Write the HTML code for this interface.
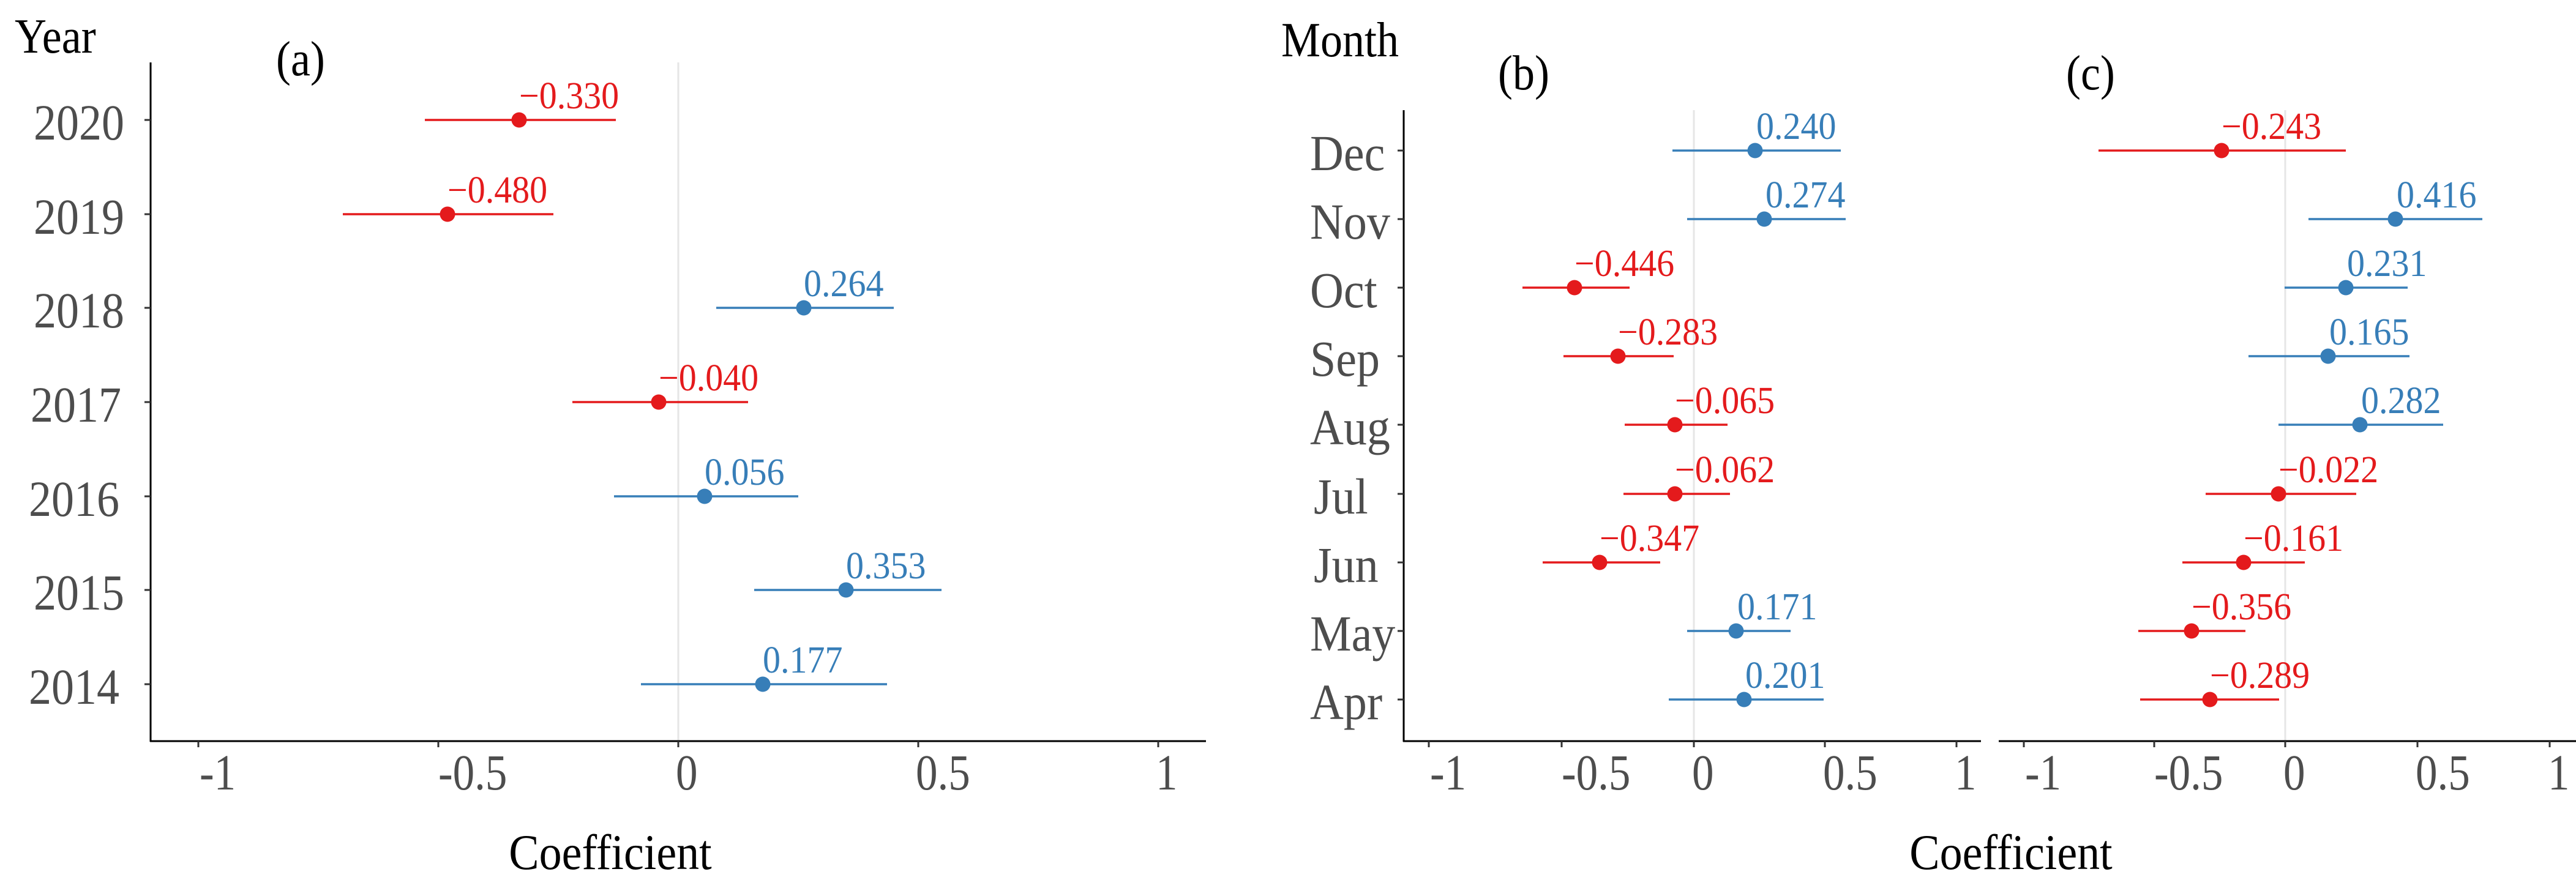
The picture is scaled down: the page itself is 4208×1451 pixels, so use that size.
<!DOCTYPE html>
<html><head><style>html,body{margin:0;padding:0;background:#fff}svg{display:block}</style></head><body>
<svg width="4208" height="1451" viewBox="0 0 4208 1451" xmlns="http://www.w3.org/2000/svg" font-family="Liberation Serif, serif">
<rect width="4208" height="1451" fill="#fff"/>
<!-- Panel a -->
<line x1="1108" y1="102" x2="1108" y2="1211" stroke="#e6e6e6" stroke-width="3"/>
<line x1="246" y1="102" x2="246" y2="1212" stroke="#000" stroke-width="3"/>
<line x1="245" y1="1211" x2="1970" y2="1211" stroke="#000" stroke-width="3"/>
<g stroke="#333" stroke-width="3">
<line x1="236" y1="196" x2="246" y2="196"/><line x1="236" y1="350" x2="246" y2="350"/><line x1="236" y1="503" x2="246" y2="503"/><line x1="236" y1="657" x2="246" y2="657"/><line x1="236" y1="811" x2="246" y2="811"/><line x1="236" y1="964" x2="246" y2="964"/><line x1="236" y1="1118" x2="246" y2="1118"/>
<line x1="324" y1="1211" x2="324" y2="1221"/><line x1="716" y1="1211" x2="716" y2="1221"/><line x1="1108" y1="1211" x2="1108" y2="1221"/><line x1="1500" y1="1211" x2="1500" y2="1221"/><line x1="1892" y1="1211" x2="1892" y2="1221"/>
</g>
<g font-size="74" fill="#4d4d4d" text-anchor="end">
<text transform="translate(203 228) scale(1 1.12)">2020</text>
<text transform="translate(203 382) scale(1 1.12)">2019</text>
<text transform="translate(203 535) scale(1 1.12)">2018</text>
<text transform="translate(198 689) scale(1 1.12)">2017</text>
<text transform="translate(195 843) scale(1 1.12)">2016</text>
<text transform="translate(203 996) scale(1 1.12)">2015</text>
<text transform="translate(195 1150) scale(1 1.12)">2014</text>
</g>
<g font-size="74" fill="#4d4d4d">
<text transform="translate(326 1290) scale(0.96 1.12)">-1</text>
<text transform="translate(716 1290) scale(0.96 1.12)">-0.5</text>
<text transform="translate(1104 1290) scale(0.96 1.12)">0</text>
<text transform="translate(1496 1290) scale(0.96 1.12)">0.5</text>
<text transform="translate(1888 1290) scale(0.96 1.12)">1</text>
</g>
<text transform="translate(24 86) scale(1 1.12)" font-size="72" fill="#000">Year</text>
<text transform="translate(451 123) scale(1 1.12)" font-size="72" fill="#000">(a)</text>
<text transform="translate(997 1420) scale(1 1.1)" font-size="74" fill="#000" text-anchor="middle">Coefficient</text>
<g stroke-width="3.5">
<line x1="694" y1="196" x2="1006" y2="196" stroke="#E41A1C"/>
<line x1="560" y1="350" x2="904" y2="350" stroke="#E41A1C"/>
<line x1="1170" y1="503" x2="1460" y2="503" stroke="#377EB8"/>
<line x1="935" y1="657" x2="1222" y2="657" stroke="#E41A1C"/>
<line x1="1003" y1="811" x2="1304" y2="811" stroke="#377EB8"/>
<line x1="1232" y1="964" x2="1538" y2="964" stroke="#377EB8"/>
<line x1="1047" y1="1118" x2="1449" y2="1118" stroke="#377EB8"/>
</g>
<g>
<circle cx="848" cy="196" r="12.5" fill="#E41A1C"/><circle cx="731" cy="350" r="12.5" fill="#E41A1C"/><circle cx="1313" cy="503" r="12.5" fill="#377EB8"/><circle cx="1076" cy="657" r="12.5" fill="#E41A1C"/><circle cx="1151" cy="811" r="12.5" fill="#377EB8"/><circle cx="1382" cy="964" r="12.5" fill="#377EB8"/><circle cx="1246" cy="1118" r="12.5" fill="#377EB8"/>
</g>
<g font-size="58">
<text transform="translate(848 177) scale(1 1.07)" fill="#E41A1C">−0.330</text>
<text transform="translate(731 331) scale(1 1.07)" fill="#E41A1C">−0.480</text>
<text transform="translate(1313 484) scale(1 1.07)" fill="#377EB8">0.264</text>
<text transform="translate(1076 638) scale(1 1.07)" fill="#E41A1C">−0.040</text>
<text transform="translate(1151 792) scale(1 1.07)" fill="#377EB8">0.056</text>
<text transform="translate(1382 945) scale(1 1.07)" fill="#377EB8">0.353</text>
<text transform="translate(1246 1099) scale(1 1.07)" fill="#377EB8">0.177</text>
</g>
<!-- Panels b and c -->
<line x1="2767" y1="180" x2="2767" y2="1211" stroke="#e6e6e6" stroke-width="3"/>
<line x1="3733" y1="180" x2="3733" y2="1211" stroke="#e6e6e6" stroke-width="3"/>
<line x1="2293" y1="180" x2="2293" y2="1212" stroke="#000" stroke-width="3"/>
<line x1="2292" y1="1211" x2="3236" y2="1211" stroke="#000" stroke-width="3"/>
<line x1="3265" y1="1211" x2="4208" y2="1211" stroke="#000" stroke-width="3"/>
<g stroke="#333" stroke-width="3">
<line x1="2283" y1="246" x2="2293" y2="246"/><line x1="2283" y1="358" x2="2293" y2="358"/><line x1="2283" y1="470" x2="2293" y2="470"/><line x1="2283" y1="582" x2="2293" y2="582"/><line x1="2283" y1="694" x2="2293" y2="694"/><line x1="2283" y1="807" x2="2293" y2="807"/><line x1="2283" y1="919" x2="2293" y2="919"/><line x1="2283" y1="1031" x2="2293" y2="1031"/><line x1="2283" y1="1143" x2="2293" y2="1143"/>
<line x1="2334" y1="1211" x2="2334" y2="1221"/><line x1="2551" y1="1211" x2="2551" y2="1221"/><line x1="2767" y1="1211" x2="2767" y2="1221"/><line x1="2981" y1="1211" x2="2981" y2="1221"/><line x1="3196" y1="1211" x2="3196" y2="1221"/>
<line x1="3306" y1="1211" x2="3306" y2="1221"/><line x1="3519" y1="1211" x2="3519" y2="1221"/><line x1="3733" y1="1211" x2="3733" y2="1221"/><line x1="3949" y1="1211" x2="3949" y2="1221"/><line x1="4165" y1="1211" x2="4165" y2="1221"/>
</g>
<g font-size="76" fill="#4d4d4d">
<text transform="translate(2140 278) scale(1 1.09)">Dec</text>
<text transform="translate(2140 390) scale(1 1.09)">Nov</text>
<text transform="translate(2140 502) scale(1 1.09)">Oct</text>
<text transform="translate(2140 614) scale(1 1.09)">Sep</text>
<text transform="translate(2140 726) scale(1 1.09)">Aug</text>
<text transform="translate(2146 839) scale(1 1.09)">Jul</text>
<text transform="translate(2146 951) scale(1 1.09)">Jun</text>
<text transform="translate(2140 1063) scale(1 1.09)">May</text>
<text transform="translate(2140 1175) scale(1 1.09)">Apr</text>
</g>
<g font-size="74" fill="#4d4d4d">
<text transform="translate(2336 1290) scale(0.96 1.12)">-1</text>
<text transform="translate(2551 1290) scale(0.96 1.12)">-0.5</text>
<text transform="translate(2764 1290) scale(0.96 1.12)">0</text>
<text transform="translate(2978 1290) scale(0.96 1.12)">0.5</text>
<text transform="translate(3193 1290) scale(0.96 1.12)">1</text>
<text transform="translate(3308 1290) scale(0.96 1.12)">-1</text>
<text transform="translate(3519 1290) scale(0.96 1.12)">-0.5</text>
<text transform="translate(3730 1290) scale(0.96 1.12)">0</text>
<text transform="translate(3946 1290) scale(0.96 1.12)">0.5</text>
<text transform="translate(4162 1290) scale(0.96 1.12)">1</text>
</g>
<text transform="translate(2093 92) scale(1 1.12)" font-size="72" fill="#000">Month</text>
<text transform="translate(2447 146) scale(1 1.12)" font-size="72" fill="#000">(b)</text>
<text transform="translate(3375 146) scale(1 1.12)" font-size="72" fill="#000">(c)</text>
<text transform="translate(3285 1420) scale(1 1.1)" font-size="74" fill="#000" text-anchor="middle">Coefficient</text>
<g stroke-width="3.5">
<line x1="2732" y1="246" x2="3007" y2="246" stroke="#377EB8"/>
<line x1="2756" y1="358" x2="3015" y2="358" stroke="#377EB8"/>
<line x1="2487" y1="470" x2="2662" y2="470" stroke="#E41A1C"/>
<line x1="2554" y1="582" x2="2734" y2="582" stroke="#E41A1C"/>
<line x1="2654" y1="694" x2="2822" y2="694" stroke="#E41A1C"/>
<line x1="2652" y1="807" x2="2826" y2="807" stroke="#E41A1C"/>
<line x1="2520" y1="919" x2="2712" y2="919" stroke="#E41A1C"/>
<line x1="2756" y1="1031" x2="2925" y2="1031" stroke="#377EB8"/>
<line x1="2726" y1="1143" x2="2979" y2="1143" stroke="#377EB8"/>
<line x1="3428" y1="246" x2="3832" y2="246" stroke="#E41A1C"/>
<line x1="3771" y1="358" x2="4055" y2="358" stroke="#377EB8"/>
<line x1="3732" y1="470" x2="3933" y2="470" stroke="#377EB8"/>
<line x1="3673" y1="582" x2="3936" y2="582" stroke="#377EB8"/>
<line x1="3722" y1="694" x2="3991" y2="694" stroke="#377EB8"/>
<line x1="3603" y1="807" x2="3849" y2="807" stroke="#E41A1C"/>
<line x1="3565" y1="919" x2="3765" y2="919" stroke="#E41A1C"/>
<line x1="3493" y1="1031" x2="3668" y2="1031" stroke="#E41A1C"/>
<line x1="3496" y1="1143" x2="3723" y2="1143" stroke="#E41A1C"/>
</g>
<g fill="#377EB8"><circle cx="2867" cy="246" r="12.5"/><circle cx="2882" cy="358" r="12.5"/><circle cx="2836" cy="1031" r="12.5"/><circle cx="2849" cy="1143" r="12.5"/>
<circle cx="3913" cy="358" r="12.5"/><circle cx="3832" cy="470" r="12.5"/><circle cx="3803" cy="582" r="12.5"/><circle cx="3855" cy="694" r="12.5"/></g>
<g fill="#E41A1C"><circle cx="2572" cy="470" r="12.5"/><circle cx="2643" cy="582" r="12.5"/><circle cx="2736" cy="694" r="12.5"/><circle cx="2736" cy="807" r="12.5"/><circle cx="2613" cy="919" r="12.5"/>
<circle cx="3629" cy="246" r="12.5"/><circle cx="3722" cy="807" r="12.5"/><circle cx="3665" cy="919" r="12.5"/><circle cx="3580" cy="1031" r="12.5"/><circle cx="3610" cy="1143" r="12.5"/></g>
<g font-size="58">
<text transform="translate(2869 227) scale(1 1.07)" fill="#377EB8">0.240</text>
<text transform="translate(2884 339) scale(1 1.07)" fill="#377EB8">0.274</text>
<text transform="translate(2572 451) scale(1 1.07)" fill="#E41A1C">−0.446</text>
<text transform="translate(2643 563) scale(1 1.07)" fill="#E41A1C">−0.283</text>
<text transform="translate(2736 675) scale(1 1.07)" fill="#E41A1C">−0.065</text>
<text transform="translate(2736 788) scale(1 1.07)" fill="#E41A1C">−0.062</text>
<text transform="translate(2613 900) scale(1 1.07)" fill="#E41A1C">−0.347</text>
<text transform="translate(2838 1012) scale(1 1.07)" fill="#377EB8">0.171</text>
<text transform="translate(2851 1124) scale(1 1.07)" fill="#377EB8">0.201</text>
<text transform="translate(3629 227) scale(1 1.07)" fill="#E41A1C">−0.243</text>
<text transform="translate(3915 339) scale(1 1.07)" fill="#377EB8">0.416</text>
<text transform="translate(3834 451) scale(1 1.07)" fill="#377EB8">0.231</text>
<text transform="translate(3805 563) scale(1 1.07)" fill="#377EB8">0.165</text>
<text transform="translate(3857 675) scale(1 1.07)" fill="#377EB8">0.282</text>
<text transform="translate(3722 788) scale(1 1.07)" fill="#E41A1C">−0.022</text>
<text transform="translate(3665 900) scale(1 1.07)" fill="#E41A1C">−0.161</text>
<text transform="translate(3580 1012) scale(1 1.07)" fill="#E41A1C">−0.356</text>
<text transform="translate(3610 1124) scale(1 1.07)" fill="#E41A1C">−0.289</text>
</g>
</svg>
</body></html>
